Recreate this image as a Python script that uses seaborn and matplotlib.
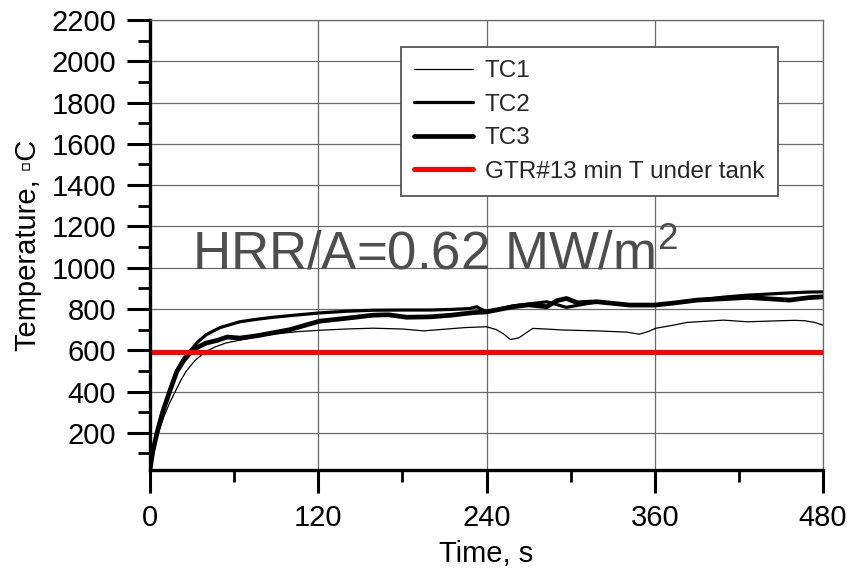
import matplotlib
matplotlib.use("Agg")
import matplotlib.pyplot as plt
import seaborn as sns
from matplotlib.ticker import MultipleLocator

# Thermocouple readings (time in s, temperature in deg C)
tc1_t = [0, 3, 6, 10, 14, 18, 22, 26, 32, 39, 46, 54, 64, 76, 88, 105, 121, 140, 159, 180,
         195, 210, 225, 240, 247, 252, 257, 263, 273, 285, 295, 319, 340, 349, 355, 361,
         372, 383, 395, 409, 426, 440, 449, 460, 467, 474, 480]
tc1_v = [25, 120, 200, 280, 345, 400, 455, 500, 550, 590, 615, 635, 649, 665, 678, 690, 697,
         703, 707, 703, 694, 702, 710, 714, 700, 680, 652, 660, 706, 702, 698, 694, 688, 678,
         690, 707, 720, 735, 740, 746, 738, 741, 743, 745, 743, 735, 722]

tc2_t = [0, 2, 5, 9, 14, 19, 24, 29, 34, 40, 50, 64, 76, 88, 100, 121, 140, 159, 180, 200,
         215, 228, 233, 240, 259, 283, 297, 319, 342, 360, 375, 390, 410, 426, 440, 456, 470, 480]
tc2_v = [25, 110, 200, 300, 400, 500, 560, 600, 640, 675, 710, 738, 750, 760, 768, 781, 789,
         794, 795, 795, 798, 802, 811, 786, 815, 835, 808, 835, 819, 819, 830, 843, 858, 867,
         872, 878, 882, 883]

tc3_t = [0, 2, 5, 9, 14, 19, 24, 29, 34, 40, 48, 55, 64, 76, 88, 100, 110, 121, 140, 159,
         170, 183, 200, 215, 230, 240, 259, 270, 283, 290, 297, 305, 319, 342, 360, 375, 390,
         410, 426, 440, 456, 470, 480]
tc3_v = [25, 110, 200, 300, 400, 495, 550, 590, 615, 635, 648, 664, 659, 670, 685, 700, 720,
         741, 755, 770, 772, 760, 762, 770, 782, 786, 811, 820, 811, 840, 851, 830, 835, 819,
         819, 830, 843, 850, 856, 850, 843, 855, 859]

# Criterion: minimum temperature under the tank
crit_t = [0, 480]
crit_v = [590, 590]

labels = ["TC1", "TC2", "TC3", "GTR#13 min T under tank"]

sns.set_theme(style="white")
plt.rcParams["font.family"] = ["Liberation Sans", "DejaVu Sans"]
plt.rcParams["mathtext.fontset"] = "custom"
plt.rcParams["mathtext.rm"] = "Liberation Sans"
plt.rcParams["mathtext.it"] = "Liberation Sans"

fig = plt.figure(figsize=(8.52, 5.70), dpi=100)
ax = fig.add_axes([150 / 852, 1 - 470 / 570, 673 / 852, 450 / 570])

sns.lineplot(x=tc1_t, y=tc1_v, ax=ax, color="black", lw=0.9, label=labels[0])
sns.lineplot(x=tc2_t, y=tc2_v, ax=ax, color="black", lw=2.3, label=labels[1])
sns.lineplot(x=tc3_t, y=tc3_v, ax=ax, color="black", lw=3.4, label=labels[2])
sns.lineplot(x=crit_t, y=crit_v, ax=ax, color="#ff0000", lw=3.6, label=labels[3])

ax.set_xlim(0, 480)
ax.set_ylim(20, 2200)
ax.xaxis.set_major_locator(MultipleLocator(120))
ax.xaxis.set_minor_locator(MultipleLocator(60))
ax.yaxis.set_minor_locator(MultipleLocator(100))
ax.set_yticks(range(200, 2201, 200))

ax.grid(True, which="major", color="#6a6a6a", lw=0.9)
ax.set_axisbelow(True)

for side in ["left", "bottom"]:
    ax.spines[side].set_linewidth(2.4)
    ax.spines[side].set_color("black")
for side in ["top", "right"]:
    ax.spines[side].set_linewidth(0.9)
    ax.spines[side].set_color("#6a6a6a")

ax.tick_params(axis="both", which="major", direction="out", length=16.5, width=2.2,
               color="black", labelsize=21, labelcolor="black", pad=8,
               bottom=True, left=True)
ax.tick_params(axis="both", which="minor", direction="out", length=8.5, width=2.0,
               color="black", bottom=True, left=True)

ax.set_xlabel("Time, s", fontsize=21, color="black", labelpad=6)
ax.set_ylabel("Temperature, \u25abC", fontsize=21, color="black", labelpad=7)

ax.text(30, 990, "HRR/A=0.62 MW/m$^2$", fontsize=38, color="#4d4d4d",
        ha="left", va="baseline")

leg = ax.legend(loc="upper left", bbox_to_anchor=(401 / 852, 1 - 47 / 570),
                bbox_transform=fig.transFigure, borderaxespad=0, fontsize=17.5,
                frameon=True, fancybox=False, shadow=False, framealpha=1,
                edgecolor="#555555", handlelength=2.4, handletextpad=0.5,
                labelspacing=0.47, borderpad=0.55)
leg.get_frame().set_linewidth(1.3)

fig.savefig("out.png", dpi=100)
